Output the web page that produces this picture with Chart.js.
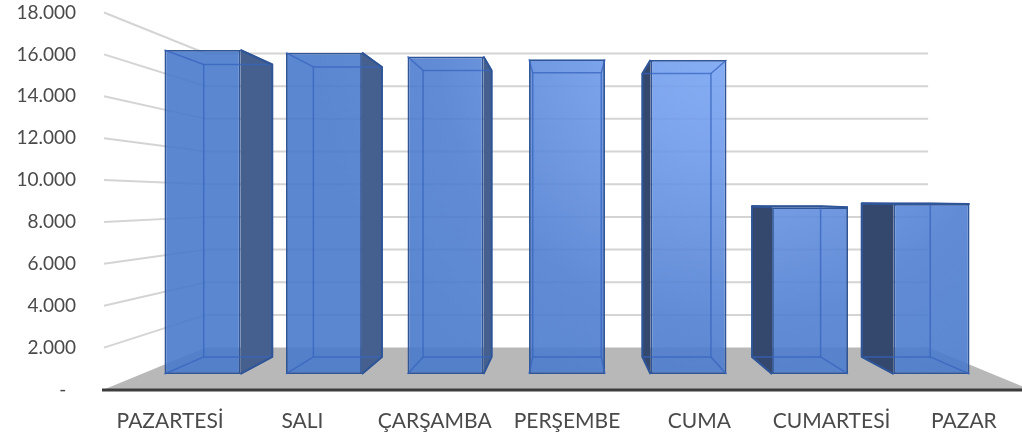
<!DOCTYPE html>
<html>
<head>
<meta charset="utf-8">
<script src="https://cdn.jsdelivr.net/npm/chart.js@4.4.1/dist/chart.umd.min.js"></script>
<style>
html,body{margin:0;padding:0;overflow:hidden;background:#ffffff;width:1022px;height:436px;}
#wrap{width:1040px;height:436px;}
canvas{display:block;}
</style>
</head>
<body>
<div id="wrap"><canvas id="c" width="1040" height="436"></canvas></div>
<script>
// ---- data ----
const categories = ['PAZARTESİ', 'SALI', 'ÇARŞAMBA', 'PERŞEMBE', 'CUMA', 'CUMARTESİ', 'PAZAR'];
const values = [16840, 16700, 16500, 16360, 16320, 8670, 8840];
const yTickValues = [0, 2000, 4000, 6000, 8000, 10000, 12000, 14000, 16000, 18000];
const yTickLabels = ['-  ', '2.000', '4.000', '6.000', '8.000', '10.000', '12.000', '14.000', '16.000', '18.000'];

// ---- 3D view settings (style only) ----
const view = { horizonValue: 9100, kFront: 0.9186, kBack: 0.829, kWall: 0.78 };
const textColor = '#4a4a4a';

function vanishing(chart) {
  const a = chart.chartArea;
  return { x: (a.left + a.right) / 2, y: chart.scales.y.getPixelForValue(view.horizonValue) };
}
function proj(V, x, y, k) { return { x: V.x + k * (x - V.x), y: V.y + k * (y - V.y) }; }

function boxOf(bar, V) {
  const p = bar.getProps(['x', 'y', 'base', 'width'], true);
  const L = p.x - p.width / 2, R = p.x + p.width / 2;
  const T = Math.min(p.y, p.base), B = Math.max(p.y, p.base);
  const mk = k => ({ lt: proj(V, L, T, k), rt: proj(V, R, T, k), rb: proj(V, R, B, k), lb: proj(V, L, B, k) });
  return {
    f: mk(view.kFront), b: mk(view.kBack),
    side: R < V.x ? 'right' : (L > V.x ? 'left' : null),
    fromAbove: T > V.y
  };
}
function poly(ctx, pts) {
  ctx.beginPath();
  ctx.moveTo(pts[0].x, pts[0].y);
  for (let i = 1; i < pts.length; i++) ctx.lineTo(pts[i].x, pts[i].y);
  ctx.closePath();
}
function path(ctx, pts) {
  ctx.beginPath();
  ctx.moveTo(pts[0].x, pts[0].y);
  for (let i = 1; i < pts.length; i++) ctx.lineTo(pts[i].x, pts[i].y);
  ctx.stroke();
}

const perspective = {
  id: 'perspective',
  beforeDatasetsDraw(chart) {
    const ctx = chart.ctx, a = chart.chartArea, ys = chart.scales.y;
    const V = vanishing(chart);
    ctx.save();
    // wall gridlines
    ctx.strokeStyle = '#d4d4d4';
    ctx.lineWidth = 2;
    yTickValues.forEach(v => {
      if (v === 0) return;
      const y = ys.getPixelForValue(v);
      const bl = proj(V, a.left, y, view.kWall), br = proj(V, a.right, y, view.kWall);
      ctx.beginPath();
      ctx.moveTo(a.left, y); ctx.lineTo(bl.x, bl.y); ctx.lineTo(br.x, br.y);
      ctx.stroke();
    });
    // floor
    const y0 = ys.getPixelForValue(0);
    const fl = { x: a.left, y: y0 }, fr = { x: a.right, y: y0 };
    const bl = proj(V, a.left, y0, view.kWall), br = proj(V, a.right, y0, view.kWall);
    ctx.fillStyle = '#b8b8b8';
    poly(ctx, [fl, fr, br, bl]);
    ctx.fill();
    ctx.strokeStyle = '#3c3c3c';
    ctx.lineWidth = 3;
    ctx.beginPath();
    ctx.moveTo(a.left - 2, y0 + 0.5); ctx.lineTo(a.right, y0 + 0.5);
    ctx.stroke();
    // side / top faces
    chart.getDatasetMeta(0).data.forEach(bar => {
      const g = boxOf(bar, V);
      if (g.side === 'right') {
        ctx.fillStyle = '#45608f';
        poly(ctx, [g.f.rt, g.b.rt, g.b.rb, g.f.rb]); ctx.fill();
      } else if (g.side === 'left') {
        ctx.fillStyle = '#34486d';
        poly(ctx, [g.f.lt, g.b.lt, g.b.lb, g.f.lb]); ctx.fill();
      }
      if (g.fromAbove) {
        ctx.fillStyle = '#5c87cf';
        poly(ctx, [g.f.lt, g.b.lt, g.b.rt, g.f.rt]); ctx.fill();
      }
    });
    ctx.restore();
    // front plane transform for the bars' front faces
    ctx.save();
    ctx.translate(V.x, V.y);
    ctx.scale(view.kFront, view.kFront);
    ctx.translate(-V.x, -V.y);
  },
  afterDatasetsDraw(chart) {
    const ctx = chart.ctx;
    ctx.restore();
    const V = vanishing(chart);
    ctx.save();
    ctx.lineJoin = 'round';
    chart.getDatasetMeta(0).data.forEach(bar => {
      const g = boxOf(bar, V);
      // hidden (see-through) edges
      ctx.strokeStyle = 'rgba(55,100,190,0.75)';
      ctx.lineWidth = 1.5;
      poly(ctx, [g.b.lt, g.b.rt, g.b.rb, g.b.lb]); ctx.stroke();
      path(ctx, [g.f.lt, g.b.lt]); path(ctx, [g.f.rt, g.b.rt]);
      path(ctx, [g.f.lb, g.b.lb]); path(ctx, [g.f.rb, g.b.rb]);
      // silhouette edges
      ctx.strokeStyle = '#2f5597';
      ctx.lineWidth = 2;
      if (g.side === 'right') path(ctx, [g.f.rt, g.b.rt, g.b.rb, g.f.rb]);
      else if (g.side === 'left') path(ctx, [g.f.lt, g.b.lt, g.b.lb, g.f.lb]);
      if (g.fromAbove) path(ctx, [g.f.lt, g.b.lt, g.b.rt, g.f.rt]);
    });
    ctx.restore();
  }
};

function frontFill(context) {
  const chart = context.chart;
  const a = chart.chartArea;
  if (!a) return 'rgba(73,122,204,0.9)';
  const V = vanishing(chart);
  // highlight centre given in screen space, converted to the front plane
  const sx = 730, sy = 30, sr = 420;
  const cx = V.x + (sx - V.x) / view.kFront, cy = V.y + (sy - V.y) / view.kFront;
  const g = chart.ctx.createRadialGradient(cx, cy, 0, cx, cy, sr / view.kFront);
  g.addColorStop(0, 'rgba(124,168,246,0.9)');
  g.addColorStop(0.3, 'rgba(110,154,234,0.9)');
  g.addColorStop(0.7, 'rgba(80,127,208,0.9)');
  g.addColorStop(1, 'rgba(73,122,204,0.9)');
  return g;
}

Chart.defaults.font.family = 'Lato, "Open Sans", sans-serif';

new Chart(document.getElementById('c'), {
  type: 'bar',
  data: {
    labels: categories,
    datasets: [{
      data: values,
      backgroundColor: frontFill,
      borderColor: '#2f5597',
      borderWidth: 2,
      borderSkipped: false,
      barPercentage: 0.625,
      categoryPercentage: 1,
      clip: false
    }]
  },
  options: {
    responsive: false,
    animation: false,
    events: [],
    layout: { padding: { top: 12.5, right: 10, bottom: 0, left: 0 } },
    plugins: { legend: { display: false }, tooltip: { enabled: false } },
    scales: {
      x: {
        grid: { display: false, drawTicks: false },
        border: { display: false },
        ticks: { color: textColor, font: { size: 21 }, padding: 19, maxRotation: 0, autoSkip: false },
        afterFit: s => { s.height = 46.5; s.paddingLeft = 0; s.paddingRight = 0; }
      },
      y: {
        min: 0, max: 18000,
        grid: { display: false, drawTicks: false },
        border: { display: false },
        afterBuildTicks: s => { s.ticks = yTickValues.map(v => ({ value: v })); },
        ticks: {
          color: textColor, font: { size: 19 }, padding: 28,
          callback: v => yTickLabels[yTickValues.indexOf(v)]
        },
        afterFit: s => { s.width = 104; s.paddingTop = 0; s.paddingBottom = 0; }
      }
    }
  },
  plugins: [perspective]
});
</script>
</body>
</html>
